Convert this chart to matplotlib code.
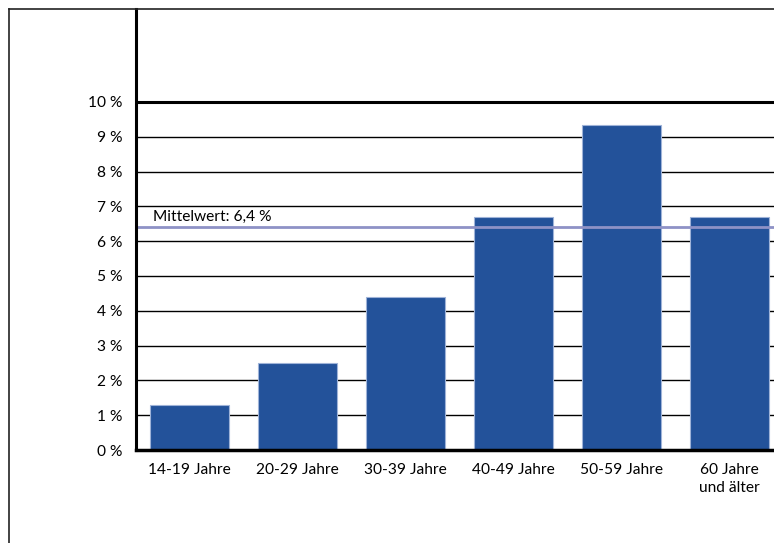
import matplotlib
matplotlib.use("Agg")
import matplotlib.pyplot as plt
from matplotlib.lines import Line2D

plt.rcParams["font.family"] = ["Lato", "DejaVu Sans"]

# ── data ──────────────────────────────────────────────────────────────────────
groups = ["14-19 Jahre", "20-29 Jahre", "30-39 Jahre", "40-49 Jahre",
          "50-59 Jahre", "60 Jahre\nund älter"]
shares = [1.3, 2.5, 4.4, 6.7, 9.35, 6.7]
mean_share = 6.4
yticks = list(range(0, 11))

BAR = "#23529a"
BAR_EDGE = "#9fb3d8"
MEAN = "#8e92c6"

fig = plt.figure(figsize=(7.74, 5.43), dpi=100)
ax = fig.add_axes([136 / 774, 93 / 543, 1 - 136 / 774, (450 - 9) / 543])

x = list(range(len(groups)))
ax.bar(x, shares, width=0.73, color=BAR, edgecolor=BAR_EDGE, linewidth=0.8, zorder=3)

# horizontal grid, 10 % line heavier
for v in yticks[1:]:
    ax.axhline(v, color="black", lw=2.2 if v == 10 else 1.0, zorder=1)

ax.axhline(mean_share, color=MEAN, lw=2.0, zorder=4)
ax.text(-0.34, mean_share + 0.1, "Mittelwert: 6,4 %", fontsize=11.2,
        ha="left", va="bottom", zorder=5)

ax.set_xlim(-0.495, 5.41)
ax.set_ylim(0, 12.67)
ax.set_yticks(yticks)
ax.set_yticklabels([f"{v} %" for v in yticks])
ax.set_xticks(x)
ax.set_xticklabels(groups, linespacing=1.45)
ax.tick_params(axis="both", length=0, labelsize=11.2)
ax.tick_params(axis="y", pad=10)
ax.tick_params(axis="x", pad=9)

for s in ("top", "right"):
    ax.spines[s].set_visible(False)
ax.spines["left"].set_linewidth(2.2)
ax.spines["bottom"].set_linewidth(2.5)
ax.spines["left"].set_zorder(6)
ax.spines["bottom"].set_zorder(6)

# outer frame (top + left)
fig.add_artist(Line2D([9 / 774, 1.0], [1 - 9 / 543, 1 - 9 / 543],
                      transform=fig.transFigure, color="#222222", lw=1.2))
fig.add_artist(Line2D([9 / 774, 9 / 774], [0, 1 - 9 / 543],
                      transform=fig.transFigure, color="#222222", lw=1.2))

fig.savefig("out.png", dpi=100)
